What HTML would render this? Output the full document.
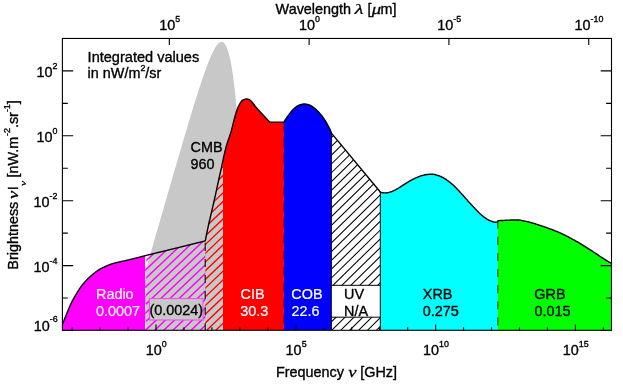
<!DOCTYPE html>
<html><head><meta charset="utf-8"><title>Extragalactic background</title>
<style>html,body{margin:0;padding:0;background:#fff;}body{width:623px;height:389px;overflow:hidden;position:relative;font-family:"Liberation Sans",sans-serif;}</style>
</head><body>
<svg width="623" height="389" viewBox="0 0 623 389" style="position:absolute;left:0;top:0">
<defs>
<clipPath id="cf"><rect x="62.40" y="38.45" width="549.10" height="291.85"/></clipPath>
<clipPath id="cm"><path d="M145.20,330.30 L145.20,255.67 145.60,255.57 146.00,255.47 146.40,255.37 146.80,255.28 147.20,255.18 147.60,255.08 148.00,254.98 148.40,254.88 148.80,254.78 149.20,254.68 149.60,254.58 150.00,254.48 150.40,254.38 150.80,254.29 151.20,254.19 151.60,254.09 152.00,253.99 152.40,253.89 152.80,253.79 153.20,253.70 153.60,253.60 154.00,253.50 154.40,253.40 154.80,253.31 155.20,253.21 155.60,253.11 156.00,253.01 156.40,252.92 156.80,252.82 157.20,252.72 157.60,252.63 158.00,252.53 158.40,252.43 158.80,252.33 159.20,252.24 159.60,252.14 160.00,252.04 160.40,251.95 160.80,251.85 161.20,251.75 161.60,251.66 162.00,251.56 162.40,251.46 162.80,251.37 163.20,251.27 163.60,251.17 164.00,251.08 164.40,250.98 164.80,250.88 165.20,250.79 165.60,250.69 166.00,250.59 166.40,250.50 166.80,250.40 167.20,250.30 167.60,250.20 168.00,250.11 168.40,250.01 168.80,249.91 169.20,249.82 169.60,249.72 170.00,249.62 170.40,249.52 170.80,249.43 171.20,249.33 171.60,249.23 172.00,249.13 172.40,249.04 172.80,248.94 173.20,248.84 173.60,248.74 174.00,248.65 174.40,248.55 174.80,248.45 175.20,248.35 175.60,248.25 176.00,248.15 176.40,248.06 176.80,247.96 177.20,247.86 177.60,247.76 178.00,247.66 178.40,247.56 178.80,247.47 179.20,247.37 179.60,247.27 180.00,247.17 180.40,247.07 180.80,246.97 181.20,246.87 181.60,246.78 182.00,246.68 182.40,246.58 182.80,246.48 183.20,246.38 183.60,246.28 184.00,246.18 184.40,246.08 184.80,245.99 185.20,245.89 185.60,245.79 186.00,245.69 186.40,245.59 186.80,245.49 187.20,245.39 187.60,245.29 188.00,245.19 188.40,245.10 188.80,245.00 189.20,244.90 189.60,244.80 190.00,244.70 190.40,244.60 190.80,244.50 191.20,244.40 191.60,244.30 192.00,244.20 192.40,244.11 192.80,244.01 193.20,243.91 193.60,243.81 194.00,243.71 194.40,243.61 194.80,243.51 195.20,243.41 195.60,243.31 196.00,243.21 196.40,243.11 196.80,243.01 197.20,242.92 197.60,242.82 198.00,242.72 198.40,242.62 198.80,242.52 199.20,242.42 199.60,242.32 200.00,242.22 200.40,242.12 200.80,242.02 201.20,241.92 201.60,241.82 202.00,241.72 202.40,241.62 202.80,241.52 203.20,241.42 203.60,241.32 204.00,241.22 204.40,241.12 204.80,241.02 205.20,240.92 205.30,240.90 L205.30,330.30 Z"/></clipPath>
<clipPath id="cr"><path d="M205.30,330.30 L205.30,240.90 205.70,238.79 206.10,236.72 206.50,234.68 206.90,232.68 207.30,230.71 207.70,228.78 208.10,226.90 208.50,225.06 208.90,223.27 209.30,221.53 209.70,219.82 210.10,218.13 210.50,216.45 210.90,214.76 211.30,213.06 211.70,211.34 212.10,209.62 212.50,207.91 212.90,206.19 213.30,204.47 213.70,202.74 214.10,201.00 214.50,199.24 214.90,197.45 215.30,195.63 215.70,193.78 216.10,191.91 216.50,190.02 216.90,188.14 217.30,186.27 217.70,184.42 218.10,182.59 218.50,180.79 218.90,179.00 219.30,177.21 219.70,175.44 220.10,173.65 220.50,171.86 220.90,170.06 221.30,168.22 221.70,166.35 222.10,164.45 222.50,162.55 222.90,160.65 223.00,160.18 L223.00,330.30 Z"/></clipPath>
<clipPath id="cu"><path d="M331.40,330.30 L331.40,132.80 331.60,133.40 331.60,133.40 380.30,192.00 L380.30,330.30 Z"/></clipPath>
<clipPath id="cc"><path d="M62.40,330.30 L62.40,324.50 62.80,323.46 63.20,322.43 63.60,321.41 64.00,320.39 64.40,319.38 64.80,318.38 65.20,317.38 65.60,316.39 66.00,315.40 66.40,314.43 66.80,313.46 67.20,312.48 67.60,311.51 68.00,310.53 68.40,309.56 68.80,308.60 69.20,307.65 69.60,306.71 70.00,305.79 70.40,304.90 70.80,304.03 71.20,303.20 71.60,302.39 72.00,301.60 72.40,300.82 72.80,300.06 73.20,299.31 73.60,298.58 74.00,297.86 74.40,297.15 74.80,296.45 75.20,295.76 75.60,295.08 76.00,294.42 76.40,293.75 76.80,293.10 77.20,292.45 77.60,291.81 78.00,291.17 78.40,290.54 78.80,289.92 79.20,289.30 79.60,288.70 80.00,288.10 80.40,287.52 80.80,286.95 81.20,286.39 81.60,285.85 82.00,285.31 82.40,284.80 82.80,284.30 83.20,283.81 83.60,283.33 84.00,282.86 84.40,282.39 84.80,281.94 85.20,281.50 85.60,281.06 86.00,280.63 86.40,280.21 86.80,279.80 87.20,279.39 87.60,278.99 88.00,278.60 88.40,278.21 88.80,277.83 89.20,277.46 89.60,277.09 90.00,276.73 90.40,276.37 90.80,276.02 91.20,275.68 91.60,275.34 92.00,275.00 92.40,274.67 92.80,274.34 93.20,274.02 93.60,273.70 94.00,273.38 94.40,273.06 94.80,272.75 95.20,272.43 95.60,272.12 96.00,271.82 96.40,271.52 96.80,271.22 97.20,270.93 97.60,270.65 98.00,270.37 98.40,270.11 98.80,269.85 99.20,269.60 99.60,269.36 100.00,269.13 100.40,268.90 100.80,268.68 101.20,268.46 101.60,268.25 102.00,268.04 102.40,267.84 102.80,267.64 103.20,267.45 103.60,267.26 104.00,267.07 104.40,266.88 104.80,266.70 105.20,266.52 105.60,266.34 106.00,266.16 106.40,265.98 106.80,265.81 107.20,265.64 107.60,265.47 108.00,265.30 108.40,265.14 108.80,264.98 109.20,264.82 109.60,264.67 110.00,264.52 110.40,264.37 110.80,264.23 111.20,264.10 111.60,263.97 112.00,263.84 112.40,263.72 112.80,263.60 113.20,263.48 113.60,263.37 114.00,263.26 114.40,263.15 114.80,263.05 115.20,262.94 115.60,262.84 116.00,262.74 116.40,262.64 116.80,262.54 117.20,262.44 117.60,262.35 118.00,262.25 118.40,262.15 118.80,262.06 119.20,261.96 119.60,261.87 120.00,261.78 120.40,261.69 120.80,261.60 121.20,261.51 121.60,261.42 122.00,261.34 122.40,261.25 122.80,261.17 123.20,261.08 123.60,261.00 124.00,260.91 124.40,260.82 124.80,260.74 125.20,260.65 125.60,260.56 126.00,260.47 126.40,260.38 126.80,260.29 127.20,260.20 127.60,260.11 128.00,260.01 128.40,259.92 128.80,259.82 129.20,259.72 129.60,259.63 130.00,259.53 130.40,259.43 130.80,259.33 131.20,259.23 131.60,259.13 132.00,259.03 132.40,258.93 132.80,258.83 133.20,258.73 133.60,258.63 134.00,258.53 134.40,258.43 134.80,258.33 135.20,258.23 135.60,258.13 136.00,258.03 136.40,257.92 136.80,257.82 137.20,257.72 137.60,257.62 138.00,257.52 138.40,257.42 138.80,257.31 139.20,257.21 139.60,257.11 140.00,257.00 140.40,256.90 140.80,256.80 141.20,256.69 141.60,256.59 142.00,256.49 142.40,256.39 142.80,256.28 143.20,256.18 143.60,256.08 144.00,255.98 144.40,255.88 144.80,255.78 145.20,255.67 145.60,255.57 146.00,255.47 146.40,255.37 146.80,255.28 147.20,255.18 147.60,255.08 148.00,254.98 148.40,254.88 148.80,254.78 149.20,254.68 149.60,254.58 150.00,254.48 150.40,254.38 150.80,254.29 151.20,254.19 151.60,254.09 152.00,253.99 152.40,253.89 152.80,253.79 153.20,253.70 153.60,253.60 154.00,253.50 154.40,253.40 154.80,253.31 155.20,253.21 155.60,253.11 156.00,253.01 156.40,252.92 156.80,252.82 157.20,252.72 157.60,252.63 158.00,252.53 158.40,252.43 158.80,252.33 159.20,252.24 159.60,252.14 160.00,252.04 160.40,251.95 160.80,251.85 161.20,251.75 161.60,251.66 162.00,251.56 162.40,251.46 162.80,251.37 163.20,251.27 163.60,251.17 164.00,251.08 164.40,250.98 164.80,250.88 165.20,250.79 165.60,250.69 166.00,250.59 166.40,250.50 166.80,250.40 167.20,250.30 167.60,250.20 168.00,250.11 168.40,250.01 168.80,249.91 169.20,249.82 169.60,249.72 170.00,249.62 170.40,249.52 170.80,249.43 171.20,249.33 171.60,249.23 172.00,249.13 172.40,249.04 172.80,248.94 173.20,248.84 173.60,248.74 174.00,248.65 174.40,248.55 174.80,248.45 175.20,248.35 175.60,248.25 176.00,248.15 176.40,248.06 176.80,247.96 177.20,247.86 177.60,247.76 178.00,247.66 178.40,247.56 178.80,247.47 179.20,247.37 179.60,247.27 180.00,247.17 180.40,247.07 180.80,246.97 181.20,246.87 181.60,246.78 182.00,246.68 182.40,246.58 182.80,246.48 183.20,246.38 183.60,246.28 184.00,246.18 184.40,246.08 184.80,245.99 185.20,245.89 185.60,245.79 186.00,245.69 186.40,245.59 186.80,245.49 187.20,245.39 187.60,245.29 188.00,245.19 188.40,245.10 188.80,245.00 189.20,244.90 189.60,244.80 190.00,244.70 190.40,244.60 190.80,244.50 191.20,244.40 191.60,244.30 192.00,244.20 192.40,244.11 192.80,244.01 193.20,243.91 193.60,243.81 194.00,243.71 194.40,243.61 194.80,243.51 195.20,243.41 195.60,243.31 196.00,243.21 196.40,243.11 196.80,243.01 197.20,242.92 197.60,242.82 198.00,242.72 198.40,242.62 198.80,242.52 199.20,242.42 199.60,242.32 200.00,242.22 200.40,242.12 200.80,242.02 201.20,241.92 201.60,241.82 202.00,241.72 202.40,241.62 202.80,241.52 203.20,241.42 203.60,241.32 204.00,241.22 204.40,241.12 204.80,241.02 205.20,240.92 205.30,240.90 205.70,238.79 206.10,236.72 206.50,234.68 206.90,232.68 207.30,230.71 207.70,228.78 208.10,226.90 208.50,225.06 208.90,223.27 209.30,221.53 209.70,219.82 210.10,218.13 210.50,216.45 210.90,214.76 211.30,213.06 211.70,211.34 212.10,209.62 212.50,207.91 212.90,206.19 213.30,204.47 213.70,202.74 214.10,201.00 214.50,199.24 214.90,197.45 215.30,195.63 215.70,193.78 216.10,191.91 216.50,190.02 216.90,188.14 217.30,186.27 217.70,184.42 218.10,182.59 218.50,180.79 218.90,179.00 219.30,177.21 219.70,175.44 220.10,173.65 220.50,171.86 220.90,170.06 221.30,168.22 221.70,166.35 222.10,164.45 222.50,162.55 222.90,160.65 223.30,158.78 223.70,156.94 224.10,155.16 224.50,153.44 224.90,151.74 225.30,150.07 225.70,148.44 226.10,146.89 226.50,145.44 226.90,144.11 227.30,142.87 227.70,141.69 228.10,140.57 228.50,139.46 228.90,138.34 229.30,137.19 229.70,136.00 230.10,134.82 230.50,133.61 230.90,132.34 231.30,130.95 231.70,129.45 232.10,127.88 232.50,126.30 232.90,124.68 233.30,123.01 233.70,121.34 234.10,119.75 234.50,118.25 234.90,116.81 235.30,115.42 235.70,114.10 236.10,112.81 236.50,111.55 236.90,110.33 237.30,109.19 237.70,108.14 238.10,107.20 238.50,106.32 238.90,105.49 239.30,104.72 239.70,104.01 240.10,103.34 240.50,102.68 240.90,102.05 241.30,101.48 241.70,100.99 242.10,100.62 242.50,100.30 242.90,100.03 243.30,99.79 243.70,99.61 244.10,99.47 244.50,99.35 244.90,99.25 245.30,99.15 245.70,99.08 246.10,99.03 246.50,99.00 246.90,99.01 247.30,99.06 247.70,99.13 248.10,99.23 248.50,99.34 248.90,99.47 249.30,99.66 249.70,99.92 250.10,100.21 250.50,100.53 250.90,100.88 251.30,101.28 251.70,101.74 252.10,102.23 252.50,102.74 252.90,103.25 253.30,103.75 253.70,104.25 254.10,104.77 254.50,105.29 254.90,105.81 255.30,106.33 255.70,106.83 256.10,107.32 256.50,107.79 256.90,108.26 257.30,108.72 257.70,109.17 258.10,109.62 258.50,110.06 258.90,110.50 259.30,110.94 259.70,111.37 260.10,111.79 260.50,112.22 260.90,112.64 261.30,113.06 261.70,113.48 262.10,113.91 262.50,114.33 262.90,114.76 263.30,115.19 263.70,115.62 264.10,116.05 264.50,116.47 264.90,116.90 265.30,117.33 265.70,117.77 266.10,118.20 266.50,118.63 266.90,119.07 267.30,119.51 267.70,119.95 268.10,120.38 268.50,120.82 268.90,121.27 269.30,121.71 269.70,122.15 284.00,122.15 284.40,121.38 284.80,120.64 285.20,119.93 285.60,119.26 286.00,118.64 286.40,118.05 286.80,117.50 287.20,116.96 287.60,116.43 288.00,115.90 288.40,115.36 288.80,114.82 289.20,114.28 289.60,113.74 290.00,113.21 290.40,112.70 290.80,112.20 291.20,111.72 291.60,111.25 292.00,110.79 292.40,110.34 292.80,109.91 293.20,109.50 293.60,109.10 294.00,108.72 294.40,108.34 294.80,107.98 295.20,107.63 295.60,107.30 296.00,107.00 296.40,106.71 296.80,106.44 297.20,106.17 297.60,105.93 298.00,105.70 298.40,105.49 298.80,105.31 299.20,105.14 299.60,104.97 300.00,104.82 300.40,104.69 300.80,104.57 301.20,104.48 301.60,104.39 302.00,104.30 302.40,104.21 302.80,104.14 303.20,104.07 303.60,104.03 304.00,104.00 304.40,104.00 304.80,104.02 305.20,104.06 305.60,104.11 306.00,104.17 306.40,104.24 306.80,104.31 307.20,104.38 307.60,104.46 308.00,104.56 308.40,104.67 308.80,104.79 309.20,104.93 309.60,105.08 310.00,105.24 310.40,105.43 310.80,105.64 311.20,105.87 311.60,106.12 312.00,106.38 312.40,106.66 312.80,106.93 313.20,107.21 313.60,107.50 314.00,107.81 314.40,108.13 314.80,108.46 315.20,108.80 315.60,109.15 316.00,109.50 316.40,109.86 316.80,110.24 317.20,110.63 317.60,111.02 318.00,111.43 318.40,111.85 318.80,112.28 319.20,112.71 319.60,113.15 320.00,113.60 320.40,114.07 320.80,114.54 321.20,115.03 321.60,115.53 322.00,116.04 322.40,116.56 322.80,117.10 323.20,117.65 323.60,118.22 324.00,118.80 324.40,119.40 324.80,120.01 325.20,120.64 325.60,121.29 326.00,121.95 326.40,122.64 326.80,123.34 327.20,124.06 327.60,124.80 328.00,125.54 328.40,126.30 328.80,127.05 329.20,127.81 329.60,128.58 330.00,129.38 330.40,130.24 330.80,131.16 331.20,132.20 331.60,133.40 331.60,133.40 380.30,192.00 380.70,192.15 381.10,192.30 381.50,192.43 381.90,192.55 382.30,192.64 382.70,192.70 383.10,192.75 383.50,192.79 383.90,192.83 384.30,192.86 384.70,192.89 385.10,192.90 385.50,192.90 385.90,192.88 386.30,192.86 386.70,192.82 387.10,192.78 387.50,192.74 387.90,192.69 388.30,192.62 388.70,192.52 389.10,192.41 389.50,192.29 389.90,192.16 390.30,192.03 390.70,191.90 391.10,191.76 391.50,191.62 391.90,191.47 392.30,191.31 392.70,191.14 393.10,190.97 393.50,190.80 393.90,190.62 394.30,190.43 394.70,190.24 395.10,190.05 395.50,189.85 395.90,189.65 396.30,189.43 396.70,189.21 397.10,188.98 397.50,188.73 397.90,188.49 398.30,188.24 398.70,187.98 399.10,187.72 399.50,187.47 399.90,187.21 400.30,186.95 400.70,186.70 401.10,186.45 401.50,186.19 401.90,185.93 402.30,185.67 402.70,185.41 403.10,185.14 403.50,184.88 403.90,184.62 404.30,184.36 404.70,184.10 405.10,183.84 405.50,183.59 405.90,183.34 406.30,183.09 406.70,182.84 407.10,182.59 407.50,182.35 407.90,182.10 408.30,181.86 408.70,181.62 409.10,181.38 409.50,181.14 409.90,180.91 410.30,180.68 410.70,180.46 411.10,180.25 411.50,180.03 411.90,179.82 412.30,179.61 412.70,179.41 413.10,179.21 413.50,179.01 413.90,178.81 414.30,178.62 414.70,178.43 415.10,178.25 415.50,178.07 415.90,177.89 416.30,177.71 416.70,177.54 417.10,177.36 417.50,177.19 417.90,177.02 418.30,176.85 418.70,176.69 419.10,176.53 419.50,176.37 419.90,176.23 420.30,176.09 420.70,175.95 421.10,175.83 421.50,175.71 421.90,175.60 422.30,175.48 422.70,175.37 423.10,175.27 423.50,175.16 423.90,175.06 424.30,174.97 424.70,174.88 425.10,174.80 425.50,174.73 425.90,174.67 426.30,174.61 426.70,174.56 427.10,174.52 427.50,174.47 427.90,174.43 428.30,174.39 428.70,174.35 429.10,174.31 429.50,174.28 429.90,174.25 430.30,174.23 430.70,174.21 431.10,174.20 431.50,174.20 431.90,174.21 432.30,174.23 432.70,174.26 433.10,174.30 433.50,174.34 433.90,174.39 434.30,174.44 434.70,174.51 435.10,174.60 435.50,174.71 435.90,174.82 436.30,174.95 436.70,175.08 437.10,175.21 437.50,175.34 437.90,175.46 438.30,175.60 438.70,175.73 439.10,175.87 439.50,176.02 439.90,176.18 440.30,176.34 440.70,176.50 441.10,176.67 441.50,176.85 441.90,177.04 442.30,177.24 442.70,177.46 443.10,177.68 443.50,177.92 443.90,178.16 444.30,178.40 444.70,178.65 445.10,178.91 445.50,179.16 445.90,179.43 446.30,179.70 446.70,179.98 447.10,180.26 447.50,180.55 447.90,180.84 448.30,181.14 448.70,181.44 449.10,181.75 449.50,182.05 449.90,182.36 450.30,182.67 450.70,182.99 451.10,183.31 451.50,183.64 451.90,183.97 452.30,184.30 452.70,184.65 453.10,185.00 453.50,185.36 453.90,185.73 454.30,186.10 454.70,186.49 455.10,186.88 455.50,187.27 455.90,187.67 456.30,188.08 456.70,188.49 457.10,188.90 457.50,189.33 457.90,189.76 458.30,190.20 458.70,190.64 459.10,191.09 459.50,191.54 459.90,191.99 460.30,192.44 460.70,192.89 461.10,193.33 461.50,193.77 461.90,194.21 462.30,194.65 462.70,195.09 463.10,195.53 463.50,195.97 463.90,196.41 464.30,196.85 464.70,197.30 465.10,197.75 465.50,198.20 465.90,198.66 466.30,199.11 466.70,199.57 467.10,200.03 467.50,200.48 467.90,200.93 468.30,201.38 468.70,201.82 469.10,202.26 469.50,202.69 469.90,203.13 470.30,203.56 470.70,203.99 471.10,204.42 471.50,204.84 471.90,205.27 472.30,205.69 472.70,206.12 473.10,206.54 473.50,206.97 473.90,207.39 474.30,207.81 474.70,208.23 475.10,208.65 475.50,209.07 475.90,209.48 476.30,209.90 476.70,210.32 477.10,210.74 477.50,211.17 477.90,211.59 478.30,212.01 478.70,212.43 479.10,212.84 479.50,213.23 479.90,213.62 480.30,213.98 480.70,214.34 481.10,214.69 481.50,215.03 481.90,215.36 482.30,215.68 482.70,216.00 483.10,216.32 483.50,216.62 483.90,216.93 484.30,217.22 484.70,217.52 485.10,217.82 485.50,218.11 485.90,218.40 486.30,218.68 486.70,218.95 487.10,219.20 487.50,219.43 487.90,219.65 488.30,219.86 488.70,220.06 489.10,220.26 489.50,220.45 489.90,220.63 490.30,220.80 490.70,220.95 491.10,221.10 491.50,221.24 491.90,221.36 492.30,221.49 492.70,221.62 493.10,221.75 493.50,221.87 493.90,221.98 494.30,222.07 494.70,222.14 495.10,222.18 495.50,222.20 495.90,222.19 496.30,222.17 496.70,222.12 497.10,222.05 497.50,221.76 497.90,220.70 498.30,220.68 498.70,220.66 499.10,220.64 499.50,220.62 499.90,220.59 500.30,220.57 500.70,220.55 501.10,220.53 501.50,220.51 501.90,220.49 502.30,220.47 502.70,220.45 503.10,220.43 503.50,220.41 503.90,220.38 504.30,220.36 504.70,220.34 505.10,220.31 505.50,220.29 505.90,220.26 506.30,220.24 506.70,220.22 507.10,220.19 507.50,220.17 507.90,220.15 508.30,220.13 508.70,220.12 509.10,220.11 509.50,220.09 509.90,220.08 510.30,220.07 510.70,220.06 511.10,220.05 511.50,220.05 511.90,220.04 512.30,220.03 512.70,220.02 513.10,220.02 513.50,220.01 513.90,220.01 514.30,220.00 514.70,220.00 515.10,220.00 515.50,220.00 515.90,220.00 516.30,220.00 516.70,220.00 517.10,220.00 517.50,220.00 517.90,220.00 518.30,220.00 518.70,220.00 519.10,220.02 519.50,220.07 519.90,220.13 520.30,220.21 520.70,220.30 521.10,220.39 521.50,220.48 521.90,220.56 522.30,220.64 522.70,220.71 523.10,220.78 523.50,220.86 523.90,220.93 524.30,221.01 524.70,221.09 525.10,221.16 525.50,221.25 525.90,221.33 526.30,221.41 526.70,221.50 527.10,221.59 527.50,221.68 527.90,221.78 528.30,221.87 528.70,221.97 529.10,222.08 529.50,222.18 529.90,222.28 530.30,222.39 530.70,222.50 531.10,222.61 531.50,222.72 531.90,222.83 532.30,222.94 532.70,223.06 533.10,223.17 533.50,223.29 533.90,223.42 534.30,223.54 534.70,223.67 535.10,223.79 535.50,223.92 535.90,224.05 536.30,224.18 536.70,224.31 537.10,224.44 537.50,224.57 537.90,224.70 538.30,224.83 538.70,224.96 539.10,225.09 539.50,225.22 539.90,225.35 540.30,225.47 540.70,225.60 541.10,225.73 541.50,225.86 541.90,226.00 542.30,226.13 542.70,226.26 543.10,226.39 543.50,226.53 543.90,226.67 544.30,226.80 544.70,226.94 545.10,227.08 545.50,227.23 545.90,227.37 546.30,227.51 546.70,227.66 547.10,227.80 547.50,227.95 547.90,228.10 548.30,228.24 548.70,228.39 549.10,228.54 549.50,228.69 549.90,228.84 550.30,228.99 550.70,229.13 551.10,229.28 551.50,229.43 551.90,229.58 552.30,229.73 552.70,229.88 553.10,230.03 553.50,230.18 553.90,230.33 554.30,230.49 554.70,230.64 555.10,230.80 555.50,230.96 555.90,231.12 556.30,231.28 556.70,231.44 557.10,231.61 557.50,231.77 557.90,231.94 558.30,232.11 558.70,232.28 559.10,232.45 559.50,232.62 559.90,232.80 560.30,232.98 560.70,233.16 561.10,233.34 561.50,233.52 561.90,233.70 562.30,233.89 562.70,234.08 563.10,234.27 563.50,234.46 563.90,234.65 564.30,234.85 564.70,235.04 565.10,235.24 565.50,235.44 565.90,235.64 566.30,235.85 566.70,236.05 567.10,236.26 567.50,236.47 567.90,236.68 568.30,236.90 568.70,237.11 569.10,237.33 569.50,237.55 569.90,237.77 570.30,237.99 570.70,238.22 571.10,238.44 571.50,238.66 571.90,238.88 572.30,239.10 572.70,239.32 573.10,239.54 573.50,239.75 573.90,239.97 574.30,240.19 574.70,240.41 575.10,240.62 575.50,240.84 575.90,241.06 576.30,241.28 576.70,241.51 577.10,241.73 577.50,241.96 577.90,242.19 578.30,242.42 578.70,242.65 579.10,242.88 579.50,243.12 579.90,243.36 580.30,243.60 580.70,243.84 581.10,244.08 581.50,244.32 581.90,244.57 582.30,244.81 582.70,245.06 583.10,245.30 583.50,245.55 583.90,245.80 584.30,246.05 584.70,246.30 585.10,246.55 585.50,246.80 585.90,247.06 586.30,247.31 586.70,247.57 587.10,247.82 587.50,248.08 587.90,248.34 588.30,248.60 588.70,248.85 589.10,249.11 589.50,249.37 589.90,249.63 590.30,249.89 590.70,250.15 591.10,250.41 591.50,250.67 591.90,250.93 592.30,251.19 592.70,251.46 593.10,251.72 593.50,251.98 593.90,252.24 594.30,252.51 594.70,252.77 595.10,253.04 595.50,253.30 595.90,253.57 596.30,253.83 596.70,254.10 597.10,254.37 597.50,254.64 597.90,254.90 598.30,255.17 598.70,255.44 599.10,255.71 599.50,255.98 599.90,256.24 600.30,256.51 600.70,256.77 601.10,257.03 601.50,257.30 601.90,257.56 602.30,257.82 602.70,258.08 603.10,258.34 603.50,258.60 603.90,258.86 604.30,259.11 604.70,259.37 605.10,259.62 605.50,259.87 605.90,260.12 606.30,260.37 606.70,260.62 607.10,260.86 607.50,261.10 607.90,261.34 608.30,261.58 608.70,261.81 609.10,262.04 609.50,262.27 609.90,262.50 610.30,262.73 610.70,262.96 611.10,263.18 611.50,263.40 611.50,263.40 L611.50,330.30 Z"/></clipPath>
</defs>
<rect width="623" height="389" fill="#fff"/>
<g clip-path="url(#cf)">
<path d="M127.94,330.30 L127.94,332.06 128.15,331.31 128.37,330.57 128.58,329.82 128.80,329.07 129.01,328.32 129.23,327.58 129.44,326.83 129.66,326.08 129.87,325.34 130.09,324.59 130.30,323.84 130.52,323.09 130.73,322.35 130.95,321.60 131.16,320.85 131.38,320.10 131.59,319.36 131.80,318.61 132.02,317.86 132.23,317.11 132.45,316.37 132.66,315.62 132.88,314.87 133.09,314.13 133.31,313.38 133.52,312.63 133.74,311.88 133.95,311.14 134.17,310.39 134.38,309.64 134.60,308.90 134.81,308.15 135.03,307.40 135.24,306.65 135.46,305.91 135.67,305.16 135.88,304.41 136.10,303.66 136.31,302.92 136.53,302.17 136.74,301.42 136.96,300.68 137.17,299.93 137.39,299.18 137.60,298.43 137.82,297.69 138.03,296.94 138.25,296.19 138.46,295.45 138.68,294.70 138.89,293.95 139.11,293.21 139.32,292.46 139.53,291.71 139.75,290.96 139.96,290.22 140.18,289.47 140.39,288.72 140.61,287.98 140.82,287.23 141.04,286.48 141.25,285.74 141.47,284.99 141.68,284.24 141.90,283.49 142.11,282.75 142.33,282.00 142.54,281.25 142.76,280.51 142.97,279.76 143.18,279.01 143.40,278.27 143.61,277.52 143.83,276.77 144.04,276.03 144.26,275.28 144.47,274.53 144.69,273.79 144.90,273.04 145.12,272.29 145.33,271.55 145.55,270.80 145.76,270.05 145.98,269.31 146.19,268.56 146.41,267.81 146.62,267.07 146.84,266.32 147.05,265.57 147.26,264.83 147.48,264.08 147.69,263.33 147.91,262.59 148.12,261.84 148.34,261.09 148.55,260.35 148.77,259.60 148.98,258.86 149.20,258.11 149.41,257.36 149.63,256.62 149.84,255.87 150.06,255.12 150.27,254.38 150.49,253.63 150.70,252.89 150.91,252.14 151.13,251.39 151.34,250.65 151.56,249.90 151.77,249.15 151.99,248.41 152.20,247.66 152.42,246.92 152.63,246.17 152.85,245.42 153.06,244.68 153.28,243.93 153.49,243.19 153.71,242.44 153.92,241.70 154.14,240.95 154.35,240.20 154.57,239.46 154.78,238.71 154.99,237.97 155.21,237.22 155.42,236.48 155.64,235.73 155.85,234.99 156.07,234.24 156.28,233.49 156.50,232.75 156.71,232.00 156.93,231.26 157.14,230.51 157.36,229.77 157.57,229.02 157.79,228.28 158.00,227.53 158.22,226.79 158.43,226.04 158.64,225.30 158.86,224.55 159.07,223.81 159.29,223.06 159.50,222.32 159.72,221.58 159.93,220.83 160.15,220.09 160.36,219.34 160.58,218.60 160.79,217.85 161.01,217.11 161.22,216.36 161.44,215.62 161.65,214.88 161.87,214.13 162.08,213.39 162.29,212.64 162.51,211.90 162.72,211.16 162.94,210.41 163.15,209.67 163.37,208.93 163.58,208.18 163.80,207.44 164.01,206.70 164.23,205.95 164.44,205.21 164.66,204.47 164.87,203.72 165.09,202.98 165.30,202.24 165.52,201.49 165.73,200.75 165.95,200.01 166.16,199.27 166.37,198.52 166.59,197.78 166.80,197.04 167.02,196.30 167.23,195.56 167.45,194.81 167.66,194.07 167.88,193.33 168.09,192.59 168.31,191.85 168.52,191.11 168.74,190.36 168.95,189.62 169.17,188.88 169.38,188.14 169.60,187.40 169.81,186.66 170.02,185.92 170.24,185.18 170.45,184.44 170.67,183.70 170.88,182.96 171.10,182.22 171.31,181.48 171.53,180.74 171.74,180.00 171.96,179.26 172.17,178.52 172.39,177.78 172.60,177.04 172.82,176.30 173.03,175.57 173.25,174.83 173.46,174.09 173.67,173.35 173.89,172.61 174.10,171.88 174.32,171.14 174.53,170.40 174.75,169.66 174.96,168.93 175.18,168.19 175.39,167.45 175.61,166.72 175.82,165.98 176.04,165.24 176.25,164.51 176.47,163.77 176.68,163.04 176.90,162.30 177.11,161.57 177.33,160.83 177.54,160.10 177.75,159.36 177.97,158.63 178.18,157.90 178.40,157.16 178.61,156.43 178.83,155.70 179.04,154.96 179.26,154.23 179.47,153.50 179.69,152.77 179.90,152.04 180.12,151.31 180.33,150.57 180.55,149.84 180.76,149.11 180.98,148.38 181.19,147.65 181.40,146.92 181.62,146.19 181.83,145.47 182.05,144.74 182.26,144.01 182.48,143.28 182.69,142.55 182.91,141.83 183.12,141.10 183.34,140.37 183.55,139.65 183.77,138.92 183.98,138.20 184.20,137.47 184.41,136.75 184.63,136.03 184.84,135.30 185.05,134.58 185.27,133.86 185.48,133.14 185.70,132.41 185.91,131.69 186.13,130.97 186.34,130.25 186.56,129.53 186.77,128.81 186.99,128.10 187.20,127.38 187.42,126.66 187.63,125.94 187.85,125.23 188.06,124.51 188.28,123.80 188.49,123.08 188.71,122.37 188.92,121.66 189.13,120.94 189.35,120.23 189.56,119.52 189.78,118.81 189.99,118.10 190.21,117.39 190.42,116.68 190.64,115.98 190.85,115.27 191.07,114.56 191.28,113.86 191.50,113.15 191.71,112.45 191.93,111.75 192.14,111.04 192.36,110.34 192.57,109.64 192.78,108.94 193.00,108.24 193.21,107.55 193.43,106.85 193.64,106.15 193.86,105.46 194.07,104.77 194.29,104.07 194.50,103.38 194.72,102.69 194.93,102.00 195.15,101.31 195.36,100.62 195.58,99.94 195.79,99.25 196.01,98.57 196.22,97.89 196.43,97.21 196.65,96.53 196.86,95.85 197.08,95.17 197.29,94.49 197.51,93.82 197.72,93.15 197.94,92.47 198.15,91.80 198.37,91.13 198.58,90.47 198.80,89.80 199.01,89.14 199.23,88.47 199.44,87.81 199.66,87.15 199.87,86.50 200.09,85.84 200.30,85.19 200.51,84.54 200.73,83.88 200.94,83.24 201.16,82.59 201.37,81.95 201.59,81.30 201.80,80.66 202.02,80.03 202.23,79.39 202.45,78.76 202.66,78.12 202.88,77.49 203.09,76.87 203.31,76.24 203.52,75.62 203.74,75.00 203.95,74.39 204.16,73.77 204.38,73.16 204.59,72.55 204.81,71.95 205.02,71.34 205.24,70.74 205.45,70.15 205.67,69.55 205.88,68.96 206.10,68.37 206.31,67.79 206.53,67.21 206.74,66.63 206.96,66.06 207.17,65.49 207.39,64.92 207.60,64.36 207.82,63.80 208.03,63.24 208.24,62.69 208.46,62.14 208.67,61.60 208.89,61.06 209.10,60.53 209.32,60.00 209.53,59.47 209.75,58.95 209.96,58.43 210.18,57.92 210.39,57.42 210.61,56.92 210.82,56.42 211.04,55.93 211.25,55.44 211.47,54.97 211.68,54.49 211.89,54.02 212.11,53.56 212.32,53.11 212.54,52.66 212.75,52.21 212.97,51.78 213.18,51.35 213.40,50.93 213.61,50.51 213.83,50.10 214.04,49.70 214.26,49.31 214.47,48.92 214.69,48.54 214.90,48.17 215.12,47.81 215.33,47.46 215.54,47.11 215.76,46.78 215.97,46.45 216.19,46.13 216.40,45.82 216.62,45.52 216.83,45.24 217.05,44.96 217.26,44.69 217.48,44.43 217.69,44.18 217.91,43.95 218.12,43.72 218.34,43.51 218.55,43.31 218.77,43.12 218.98,42.94 219.20,42.78 219.41,42.63 219.62,42.49 219.84,42.36 220.05,42.25 220.27,42.15 220.48,42.07 220.70,42.00 220.91,41.95 221.13,41.91 221.34,41.89 221.56,41.88 221.77,41.89 221.99,41.92 222.20,41.96 222.42,42.02 222.63,42.10 222.85,42.20 223.06,42.31 223.27,42.44 223.49,42.60 223.70,42.77 223.92,42.96 224.13,43.17 224.35,43.41 224.56,43.66 224.78,43.94 224.99,44.23 225.21,44.55 225.42,44.90 225.64,45.26 225.85,45.65 226.07,46.07 226.28,46.51 226.50,46.97 226.71,47.46 226.92,47.98 227.14,48.52 227.35,49.09 227.57,49.69 227.78,50.31 228.00,50.97 228.21,51.65 228.43,52.36 228.64,53.10 228.86,53.88 229.07,54.68 229.29,55.52 229.50,56.39 229.72,57.30 229.93,58.23 230.15,59.20 230.36,60.21 230.58,61.25 230.79,62.33 231.00,63.45 231.22,64.60 231.43,65.79 231.65,67.02 231.86,68.29 232.08,69.60 232.29,70.95 232.51,72.35 232.72,73.78 232.94,75.26 233.15,76.79 233.37,78.36 233.58,79.97 233.80,81.63 234.01,83.34 234.23,85.10 234.44,86.90 234.65,88.76 234.87,90.66 235.08,92.62 235.30,94.63 235.51,96.70 235.73,98.82 235.94,100.99 236.16,103.22 236.37,105.51 236.59,107.86 236.80,110.27 237.02,112.74 237.23,115.27 237.45,117.86 237.66,120.51 237.88,123.24 238.09,126.03 238.30,128.88 238.52,131.81 238.73,134.80 238.95,137.87 239.16,141.00 239.38,144.22 239.59,147.50 239.81,150.87 240.02,154.31 240.24,157.83 240.45,161.43 240.67,165.11 240.88,168.88 241.10,172.73 241.31,176.67 241.53,180.70 241.74,184.81 241.96,189.02 242.17,193.32 242.38,197.71 242.60,202.20 242.81,206.79 243.03,211.48 243.24,216.27 243.46,221.16 243.67,226.16 243.89,231.26 244.10,236.48 244.32,241.80 244.53,247.24 244.75,252.79 244.96,258.46 245.18,264.25 245.39,270.15 245.61,276.19 245.82,282.34 246.03,288.63 246.25,295.04 246.46,301.59 246.68,308.27 246.89,315.09 247.11,322.05 247.32,329.15 L247.32,330.30 Z" fill="#c8c8c8"/>
<g clip-path="url(#cm)"><path d="M143.20,220.47 L207.30,159.70 M143.20,229.09 L207.30,168.32 M143.20,237.71 L207.30,176.94 M143.20,246.33 L207.30,185.56 M143.20,254.95 L207.30,194.18 M143.20,263.57 L207.30,202.80 M143.20,272.19 L207.30,211.42 M143.20,280.81 L207.30,220.04 M143.20,289.43 L207.30,228.66 M143.20,298.05 L207.30,237.28 M143.20,306.67 L207.30,245.90 M143.20,315.29 L207.30,254.52 M143.20,323.91 L207.30,263.14 M143.20,332.53 L207.30,271.76 M143.20,341.15 L207.30,280.38 M143.20,349.77 L207.30,289.00 M143.20,358.39 L207.30,297.62 M143.20,367.01 L207.30,306.24 M143.20,375.63 L207.30,314.86 M143.20,384.25 L207.30,323.48 M143.20,392.87 L207.30,332.10" stroke="#ff00ff" stroke-width="1.45" fill="none"/></g>
<g clip-path="url(#cr)"><path d="M203.30,142.16 L225.00,121.33 M203.30,150.86 L225.00,130.03 M203.30,159.56 L225.00,138.73 M203.30,168.26 L225.00,147.43 M203.30,176.96 L225.00,156.13 M203.30,185.66 L225.00,164.83 M203.30,194.36 L225.00,173.53 M203.30,203.06 L225.00,182.23 M203.30,211.76 L225.00,190.93 M203.30,220.46 L225.00,199.63 M203.30,229.16 L225.00,208.33 M203.30,237.86 L225.00,217.03 M203.30,246.56 L225.00,225.73 M203.30,255.26 L225.00,234.43 M203.30,263.96 L225.00,243.13 M203.30,272.66 L225.00,251.83 M203.30,281.36 L225.00,260.53 M203.30,290.06 L225.00,269.23 M203.30,298.76 L225.00,277.93 M203.30,307.46 L225.00,286.63 M203.30,316.16 L225.00,295.33 M203.30,324.86 L225.00,304.03 M203.30,333.56 L225.00,312.73 M203.30,342.26 L225.00,321.43 M203.30,350.96 L225.00,330.13" stroke="#ff0000" stroke-width="1.35" fill="none"/></g>
<g clip-path="url(#cu)"><path d="M329.40,122.08 L382.30,70.24 M329.40,130.85 L382.30,79.01 M329.40,139.62 L382.30,87.78 M329.40,148.39 L382.30,96.55 M329.40,157.16 L382.30,105.32 M329.40,165.93 L382.30,114.09 M329.40,174.70 L382.30,122.86 M329.40,183.47 L382.30,131.63 M329.40,192.24 L382.30,140.40 M329.40,201.01 L382.30,149.17 M329.40,209.78 L382.30,157.94 M329.40,218.55 L382.30,166.71 M329.40,227.32 L382.30,175.48 M329.40,236.09 L382.30,184.25 M329.40,244.86 L382.30,193.02 M329.40,253.63 L382.30,201.79 M329.40,262.40 L382.30,210.56 M329.40,271.17 L382.30,219.33 M329.40,279.94 L382.30,228.10 M329.40,288.71 L382.30,236.87 M329.40,297.48 L382.30,245.64 M329.40,306.25 L382.30,254.41 M329.40,315.02 L382.30,263.18 M329.40,323.79 L382.30,271.95 M329.40,332.56 L382.30,280.72 M329.40,341.33 L382.30,289.49 M329.40,350.10 L382.30,298.26 M329.40,358.87 L382.30,307.03 M329.40,367.64 L382.30,315.80 M329.40,376.41 L382.30,324.57 M329.40,385.18 L382.30,333.34" stroke="#000" stroke-width="1.05" fill="none"/></g>
<path d="M62.40,330.30 L62.40,324.50 62.80,323.46 63.20,322.43 63.60,321.41 64.00,320.39 64.40,319.38 64.80,318.38 65.20,317.38 65.60,316.39 66.00,315.40 66.40,314.43 66.80,313.46 67.20,312.48 67.60,311.51 68.00,310.53 68.40,309.56 68.80,308.60 69.20,307.65 69.60,306.71 70.00,305.79 70.40,304.90 70.80,304.03 71.20,303.20 71.60,302.39 72.00,301.60 72.40,300.82 72.80,300.06 73.20,299.31 73.60,298.58 74.00,297.86 74.40,297.15 74.80,296.45 75.20,295.76 75.60,295.08 76.00,294.42 76.40,293.75 76.80,293.10 77.20,292.45 77.60,291.81 78.00,291.17 78.40,290.54 78.80,289.92 79.20,289.30 79.60,288.70 80.00,288.10 80.40,287.52 80.80,286.95 81.20,286.39 81.60,285.85 82.00,285.31 82.40,284.80 82.80,284.30 83.20,283.81 83.60,283.33 84.00,282.86 84.40,282.39 84.80,281.94 85.20,281.50 85.60,281.06 86.00,280.63 86.40,280.21 86.80,279.80 87.20,279.39 87.60,278.99 88.00,278.60 88.40,278.21 88.80,277.83 89.20,277.46 89.60,277.09 90.00,276.73 90.40,276.37 90.80,276.02 91.20,275.68 91.60,275.34 92.00,275.00 92.40,274.67 92.80,274.34 93.20,274.02 93.60,273.70 94.00,273.38 94.40,273.06 94.80,272.75 95.20,272.43 95.60,272.12 96.00,271.82 96.40,271.52 96.80,271.22 97.20,270.93 97.60,270.65 98.00,270.37 98.40,270.11 98.80,269.85 99.20,269.60 99.60,269.36 100.00,269.13 100.40,268.90 100.80,268.68 101.20,268.46 101.60,268.25 102.00,268.04 102.40,267.84 102.80,267.64 103.20,267.45 103.60,267.26 104.00,267.07 104.40,266.88 104.80,266.70 105.20,266.52 105.60,266.34 106.00,266.16 106.40,265.98 106.80,265.81 107.20,265.64 107.60,265.47 108.00,265.30 108.40,265.14 108.80,264.98 109.20,264.82 109.60,264.67 110.00,264.52 110.40,264.37 110.80,264.23 111.20,264.10 111.60,263.97 112.00,263.84 112.40,263.72 112.80,263.60 113.20,263.48 113.60,263.37 114.00,263.26 114.40,263.15 114.80,263.05 115.20,262.94 115.60,262.84 116.00,262.74 116.40,262.64 116.80,262.54 117.20,262.44 117.60,262.35 118.00,262.25 118.40,262.15 118.80,262.06 119.20,261.96 119.60,261.87 120.00,261.78 120.40,261.69 120.80,261.60 121.20,261.51 121.60,261.42 122.00,261.34 122.40,261.25 122.80,261.17 123.20,261.08 123.60,261.00 124.00,260.91 124.40,260.82 124.80,260.74 125.20,260.65 125.60,260.56 126.00,260.47 126.40,260.38 126.80,260.29 127.20,260.20 127.60,260.11 128.00,260.01 128.40,259.92 128.80,259.82 129.20,259.72 129.60,259.63 130.00,259.53 130.40,259.43 130.80,259.33 131.20,259.23 131.60,259.13 132.00,259.03 132.40,258.93 132.80,258.83 133.20,258.73 133.60,258.63 134.00,258.53 134.40,258.43 134.80,258.33 135.20,258.23 135.60,258.13 136.00,258.03 136.40,257.92 136.80,257.82 137.20,257.72 137.60,257.62 138.00,257.52 138.40,257.42 138.80,257.31 139.20,257.21 139.60,257.11 140.00,257.00 140.40,256.90 140.80,256.80 141.20,256.69 141.60,256.59 142.00,256.49 142.40,256.39 142.80,256.28 143.20,256.18 143.60,256.08 144.00,255.98 144.40,255.88 144.80,255.78 145.20,255.67 145.20,255.67 L145.20,330.30 Z" fill="#ff00ff"/>
<path d="M223.00,330.30 L223.00,160.18 223.30,158.78 223.70,156.94 224.10,155.16 224.50,153.44 224.90,151.74 225.30,150.07 225.70,148.44 226.10,146.89 226.50,145.44 226.90,144.11 227.30,142.87 227.70,141.69 228.10,140.57 228.50,139.46 228.90,138.34 229.30,137.19 229.70,136.00 230.10,134.82 230.50,133.61 230.90,132.34 231.30,130.95 231.70,129.45 232.10,127.88 232.50,126.30 232.90,124.68 233.30,123.01 233.70,121.34 234.10,119.75 234.50,118.25 234.90,116.81 235.30,115.42 235.70,114.10 236.10,112.81 236.50,111.55 236.90,110.33 237.30,109.19 237.70,108.14 238.10,107.20 238.50,106.32 238.90,105.49 239.30,104.72 239.70,104.01 240.10,103.34 240.50,102.68 240.90,102.05 241.30,101.48 241.70,100.99 242.10,100.62 242.50,100.30 242.90,100.03 243.30,99.79 243.70,99.61 244.10,99.47 244.50,99.35 244.90,99.25 245.30,99.15 245.70,99.08 246.10,99.03 246.50,99.00 246.90,99.01 247.30,99.06 247.70,99.13 248.10,99.23 248.50,99.34 248.90,99.47 249.30,99.66 249.70,99.92 250.10,100.21 250.50,100.53 250.90,100.88 251.30,101.28 251.70,101.74 252.10,102.23 252.50,102.74 252.90,103.25 253.30,103.75 253.70,104.25 254.10,104.77 254.50,105.29 254.90,105.81 255.30,106.33 255.70,106.83 256.10,107.32 256.50,107.79 256.90,108.26 257.30,108.72 257.70,109.17 258.10,109.62 258.50,110.06 258.90,110.50 259.30,110.94 259.70,111.37 260.10,111.79 260.50,112.22 260.90,112.64 261.30,113.06 261.70,113.48 262.10,113.91 262.50,114.33 262.90,114.76 263.30,115.19 263.70,115.62 264.10,116.05 264.50,116.47 264.90,116.90 265.30,117.33 265.70,117.77 266.10,118.20 266.50,118.63 266.90,119.07 267.30,119.51 267.70,119.95 268.10,120.38 268.50,120.82 268.90,121.27 269.30,121.71 269.70,122.15 284.00,122.15 L284.00,330.30 Z" fill="#ff0000"/>
<path d="M284.00,330.30 L284.00,122.15 284.40,121.38 284.80,120.64 285.20,119.93 285.60,119.26 286.00,118.64 286.40,118.05 286.80,117.50 287.20,116.96 287.60,116.43 288.00,115.90 288.40,115.36 288.80,114.82 289.20,114.28 289.60,113.74 290.00,113.21 290.40,112.70 290.80,112.20 291.20,111.72 291.60,111.25 292.00,110.79 292.40,110.34 292.80,109.91 293.20,109.50 293.60,109.10 294.00,108.72 294.40,108.34 294.80,107.98 295.20,107.63 295.60,107.30 296.00,107.00 296.40,106.71 296.80,106.44 297.20,106.17 297.60,105.93 298.00,105.70 298.40,105.49 298.80,105.31 299.20,105.14 299.60,104.97 300.00,104.82 300.40,104.69 300.80,104.57 301.20,104.48 301.60,104.39 302.00,104.30 302.40,104.21 302.80,104.14 303.20,104.07 303.60,104.03 304.00,104.00 304.40,104.00 304.80,104.02 305.20,104.06 305.60,104.11 306.00,104.17 306.40,104.24 306.80,104.31 307.20,104.38 307.60,104.46 308.00,104.56 308.40,104.67 308.80,104.79 309.20,104.93 309.60,105.08 310.00,105.24 310.40,105.43 310.80,105.64 311.20,105.87 311.60,106.12 312.00,106.38 312.40,106.66 312.80,106.93 313.20,107.21 313.60,107.50 314.00,107.81 314.40,108.13 314.80,108.46 315.20,108.80 315.60,109.15 316.00,109.50 316.40,109.86 316.80,110.24 317.20,110.63 317.60,111.02 318.00,111.43 318.40,111.85 318.80,112.28 319.20,112.71 319.60,113.15 320.00,113.60 320.40,114.07 320.80,114.54 321.20,115.03 321.60,115.53 322.00,116.04 322.40,116.56 322.80,117.10 323.20,117.65 323.60,118.22 324.00,118.80 324.40,119.40 324.80,120.01 325.20,120.64 325.60,121.29 326.00,121.95 326.40,122.64 326.80,123.34 327.20,124.06 327.60,124.80 328.00,125.54 328.40,126.30 328.80,127.05 329.20,127.81 329.60,128.58 330.00,129.38 330.40,130.24 330.80,131.16 331.20,132.20 331.40,132.80 L331.40,330.30 Z" fill="#0000ff"/>
<path d="M380.30,330.30 L380.30,192.00 380.70,192.15 381.10,192.30 381.50,192.43 381.90,192.55 382.30,192.64 382.70,192.70 383.10,192.75 383.50,192.79 383.90,192.83 384.30,192.86 384.70,192.89 385.10,192.90 385.50,192.90 385.90,192.88 386.30,192.86 386.70,192.82 387.10,192.78 387.50,192.74 387.90,192.69 388.30,192.62 388.70,192.52 389.10,192.41 389.50,192.29 389.90,192.16 390.30,192.03 390.70,191.90 391.10,191.76 391.50,191.62 391.90,191.47 392.30,191.31 392.70,191.14 393.10,190.97 393.50,190.80 393.90,190.62 394.30,190.43 394.70,190.24 395.10,190.05 395.50,189.85 395.90,189.65 396.30,189.43 396.70,189.21 397.10,188.98 397.50,188.73 397.90,188.49 398.30,188.24 398.70,187.98 399.10,187.72 399.50,187.47 399.90,187.21 400.30,186.95 400.70,186.70 401.10,186.45 401.50,186.19 401.90,185.93 402.30,185.67 402.70,185.41 403.10,185.14 403.50,184.88 403.90,184.62 404.30,184.36 404.70,184.10 405.10,183.84 405.50,183.59 405.90,183.34 406.30,183.09 406.70,182.84 407.10,182.59 407.50,182.35 407.90,182.10 408.30,181.86 408.70,181.62 409.10,181.38 409.50,181.14 409.90,180.91 410.30,180.68 410.70,180.46 411.10,180.25 411.50,180.03 411.90,179.82 412.30,179.61 412.70,179.41 413.10,179.21 413.50,179.01 413.90,178.81 414.30,178.62 414.70,178.43 415.10,178.25 415.50,178.07 415.90,177.89 416.30,177.71 416.70,177.54 417.10,177.36 417.50,177.19 417.90,177.02 418.30,176.85 418.70,176.69 419.10,176.53 419.50,176.37 419.90,176.23 420.30,176.09 420.70,175.95 421.10,175.83 421.50,175.71 421.90,175.60 422.30,175.48 422.70,175.37 423.10,175.27 423.50,175.16 423.90,175.06 424.30,174.97 424.70,174.88 425.10,174.80 425.50,174.73 425.90,174.67 426.30,174.61 426.70,174.56 427.10,174.52 427.50,174.47 427.90,174.43 428.30,174.39 428.70,174.35 429.10,174.31 429.50,174.28 429.90,174.25 430.30,174.23 430.70,174.21 431.10,174.20 431.50,174.20 431.90,174.21 432.30,174.23 432.70,174.26 433.10,174.30 433.50,174.34 433.90,174.39 434.30,174.44 434.70,174.51 435.10,174.60 435.50,174.71 435.90,174.82 436.30,174.95 436.70,175.08 437.10,175.21 437.50,175.34 437.90,175.46 438.30,175.60 438.70,175.73 439.10,175.87 439.50,176.02 439.90,176.18 440.30,176.34 440.70,176.50 441.10,176.67 441.50,176.85 441.90,177.04 442.30,177.24 442.70,177.46 443.10,177.68 443.50,177.92 443.90,178.16 444.30,178.40 444.70,178.65 445.10,178.91 445.50,179.16 445.90,179.43 446.30,179.70 446.70,179.98 447.10,180.26 447.50,180.55 447.90,180.84 448.30,181.14 448.70,181.44 449.10,181.75 449.50,182.05 449.90,182.36 450.30,182.67 450.70,182.99 451.10,183.31 451.50,183.64 451.90,183.97 452.30,184.30 452.70,184.65 453.10,185.00 453.50,185.36 453.90,185.73 454.30,186.10 454.70,186.49 455.10,186.88 455.50,187.27 455.90,187.67 456.30,188.08 456.70,188.49 457.10,188.90 457.50,189.33 457.90,189.76 458.30,190.20 458.70,190.64 459.10,191.09 459.50,191.54 459.90,191.99 460.30,192.44 460.70,192.89 461.10,193.33 461.50,193.77 461.90,194.21 462.30,194.65 462.70,195.09 463.10,195.53 463.50,195.97 463.90,196.41 464.30,196.85 464.70,197.30 465.10,197.75 465.50,198.20 465.90,198.66 466.30,199.11 466.70,199.57 467.10,200.03 467.50,200.48 467.90,200.93 468.30,201.38 468.70,201.82 469.10,202.26 469.50,202.69 469.90,203.13 470.30,203.56 470.70,203.99 471.10,204.42 471.50,204.84 471.90,205.27 472.30,205.69 472.70,206.12 473.10,206.54 473.50,206.97 473.90,207.39 474.30,207.81 474.70,208.23 475.10,208.65 475.50,209.07 475.90,209.48 476.30,209.90 476.70,210.32 477.10,210.74 477.50,211.17 477.90,211.59 478.30,212.01 478.70,212.43 479.10,212.84 479.50,213.23 479.90,213.62 480.30,213.98 480.70,214.34 481.10,214.69 481.50,215.03 481.90,215.36 482.30,215.68 482.70,216.00 483.10,216.32 483.50,216.62 483.90,216.93 484.30,217.22 484.70,217.52 485.10,217.82 485.50,218.11 485.90,218.40 486.30,218.68 486.70,218.95 487.10,219.20 487.50,219.43 487.90,219.65 488.30,219.86 488.70,220.06 489.10,220.26 489.50,220.45 489.90,220.63 490.30,220.80 490.70,220.95 491.10,221.10 491.50,221.24 491.90,221.36 492.30,221.49 492.70,221.62 493.10,221.75 493.50,221.87 493.90,221.98 494.30,222.07 494.70,222.14 495.10,222.18 495.50,222.20 495.90,222.19 496.30,222.17 496.70,222.12 497.10,222.05 497.50,221.76 497.80,220.96 L497.80,330.30 Z" fill="#00ffff"/>
<path d="M497.80,330.30 L497.80,220.96 497.90,220.70 498.30,220.68 498.70,220.66 499.10,220.64 499.50,220.62 499.90,220.59 500.30,220.57 500.70,220.55 501.10,220.53 501.50,220.51 501.90,220.49 502.30,220.47 502.70,220.45 503.10,220.43 503.50,220.41 503.90,220.38 504.30,220.36 504.70,220.34 505.10,220.31 505.50,220.29 505.90,220.26 506.30,220.24 506.70,220.22 507.10,220.19 507.50,220.17 507.90,220.15 508.30,220.13 508.70,220.12 509.10,220.11 509.50,220.09 509.90,220.08 510.30,220.07 510.70,220.06 511.10,220.05 511.50,220.05 511.90,220.04 512.30,220.03 512.70,220.02 513.10,220.02 513.50,220.01 513.90,220.01 514.30,220.00 514.70,220.00 515.10,220.00 515.50,220.00 515.90,220.00 516.30,220.00 516.70,220.00 517.10,220.00 517.50,220.00 517.90,220.00 518.30,220.00 518.70,220.00 519.10,220.02 519.50,220.07 519.90,220.13 520.30,220.21 520.70,220.30 521.10,220.39 521.50,220.48 521.90,220.56 522.30,220.64 522.70,220.71 523.10,220.78 523.50,220.86 523.90,220.93 524.30,221.01 524.70,221.09 525.10,221.16 525.50,221.25 525.90,221.33 526.30,221.41 526.70,221.50 527.10,221.59 527.50,221.68 527.90,221.78 528.30,221.87 528.70,221.97 529.10,222.08 529.50,222.18 529.90,222.28 530.30,222.39 530.70,222.50 531.10,222.61 531.50,222.72 531.90,222.83 532.30,222.94 532.70,223.06 533.10,223.17 533.50,223.29 533.90,223.42 534.30,223.54 534.70,223.67 535.10,223.79 535.50,223.92 535.90,224.05 536.30,224.18 536.70,224.31 537.10,224.44 537.50,224.57 537.90,224.70 538.30,224.83 538.70,224.96 539.10,225.09 539.50,225.22 539.90,225.35 540.30,225.47 540.70,225.60 541.10,225.73 541.50,225.86 541.90,226.00 542.30,226.13 542.70,226.26 543.10,226.39 543.50,226.53 543.90,226.67 544.30,226.80 544.70,226.94 545.10,227.08 545.50,227.23 545.90,227.37 546.30,227.51 546.70,227.66 547.10,227.80 547.50,227.95 547.90,228.10 548.30,228.24 548.70,228.39 549.10,228.54 549.50,228.69 549.90,228.84 550.30,228.99 550.70,229.13 551.10,229.28 551.50,229.43 551.90,229.58 552.30,229.73 552.70,229.88 553.10,230.03 553.50,230.18 553.90,230.33 554.30,230.49 554.70,230.64 555.10,230.80 555.50,230.96 555.90,231.12 556.30,231.28 556.70,231.44 557.10,231.61 557.50,231.77 557.90,231.94 558.30,232.11 558.70,232.28 559.10,232.45 559.50,232.62 559.90,232.80 560.30,232.98 560.70,233.16 561.10,233.34 561.50,233.52 561.90,233.70 562.30,233.89 562.70,234.08 563.10,234.27 563.50,234.46 563.90,234.65 564.30,234.85 564.70,235.04 565.10,235.24 565.50,235.44 565.90,235.64 566.30,235.85 566.70,236.05 567.10,236.26 567.50,236.47 567.90,236.68 568.30,236.90 568.70,237.11 569.10,237.33 569.50,237.55 569.90,237.77 570.30,237.99 570.70,238.22 571.10,238.44 571.50,238.66 571.90,238.88 572.30,239.10 572.70,239.32 573.10,239.54 573.50,239.75 573.90,239.97 574.30,240.19 574.70,240.41 575.10,240.62 575.50,240.84 575.90,241.06 576.30,241.28 576.70,241.51 577.10,241.73 577.50,241.96 577.90,242.19 578.30,242.42 578.70,242.65 579.10,242.88 579.50,243.12 579.90,243.36 580.30,243.60 580.70,243.84 581.10,244.08 581.50,244.32 581.90,244.57 582.30,244.81 582.70,245.06 583.10,245.30 583.50,245.55 583.90,245.80 584.30,246.05 584.70,246.30 585.10,246.55 585.50,246.80 585.90,247.06 586.30,247.31 586.70,247.57 587.10,247.82 587.50,248.08 587.90,248.34 588.30,248.60 588.70,248.85 589.10,249.11 589.50,249.37 589.90,249.63 590.30,249.89 590.70,250.15 591.10,250.41 591.50,250.67 591.90,250.93 592.30,251.19 592.70,251.46 593.10,251.72 593.50,251.98 593.90,252.24 594.30,252.51 594.70,252.77 595.10,253.04 595.50,253.30 595.90,253.57 596.30,253.83 596.70,254.10 597.10,254.37 597.50,254.64 597.90,254.90 598.30,255.17 598.70,255.44 599.10,255.71 599.50,255.98 599.90,256.24 600.30,256.51 600.70,256.77 601.10,257.03 601.50,257.30 601.90,257.56 602.30,257.82 602.70,258.08 603.10,258.34 603.50,258.60 603.90,258.86 604.30,259.11 604.70,259.37 605.10,259.62 605.50,259.87 605.90,260.12 606.30,260.37 606.70,260.62 607.10,260.86 607.50,261.10 607.90,261.34 608.30,261.58 608.70,261.81 609.10,262.04 609.50,262.27 609.90,262.50 610.30,262.73 610.70,262.96 611.10,263.18 611.50,263.40 611.50,263.40 L611.50,330.30 Z" fill="#00ff00"/>
<rect x="331.40" y="285.3" width="48.90" height="31.9" fill="#fff"/>
<path d="M331.40,285.3 H380.30 M331.40,317.2 H380.30" stroke="#000" stroke-width="1"/>
<g clip-path="url(#cc)">
<line x1="145.70" y1="256.3" x2="145.70" y2="265.4" stroke="#fff" stroke-width="1.2"/>
<line x1="145.60" y1="271.80" x2="145.60" y2="330.30" stroke="#fff" stroke-opacity="0.75" stroke-width="1.0" stroke-dasharray="8.1 8"/>
<line x1="205.20" y1="242.80" x2="205.20" y2="330.30" stroke="#111" stroke-width="1.15" stroke-dasharray="8.1 8"/>
<line x1="283.60" y1="122.15" x2="283.60" y2="330.30" stroke="#300020" stroke-opacity="0.5" stroke-width="1.1" stroke-dasharray="8.1 8"/>
<line x1="331.40" y1="132.80" x2="331.40" y2="330.30" stroke="#000" stroke-width="0.9"/>
<line x1="380.30" y1="192.00" x2="380.30" y2="330.30" stroke="#000" stroke-width="1"/>
<line x1="497.80" y1="220.70" x2="497.80" y2="330.30" stroke="#004828" stroke-width="1.15" stroke-dasharray="8.1 8"/>
</g>
<rect x="149.4" y="298.6" width="53.6" height="21.4" fill="#c8c8c8" stroke="#f545f5" stroke-width="1.0"/>
</g>
<path d="M62.40,324.50 L62.80,323.46 63.20,322.43 63.60,321.41 64.00,320.39 64.40,319.38 64.80,318.38 65.20,317.38 65.60,316.39 66.00,315.40 66.40,314.43 66.80,313.46 67.20,312.48 67.60,311.51 68.00,310.53 68.40,309.56 68.80,308.60 69.20,307.65 69.60,306.71 70.00,305.79 70.40,304.90 70.80,304.03 71.20,303.20 71.60,302.39 72.00,301.60 72.40,300.82 72.80,300.06 73.20,299.31 73.60,298.58 74.00,297.86 74.40,297.15 74.80,296.45 75.20,295.76 75.60,295.08 76.00,294.42 76.40,293.75 76.80,293.10 77.20,292.45 77.60,291.81 78.00,291.17 78.40,290.54 78.80,289.92 79.20,289.30 79.60,288.70 80.00,288.10 80.40,287.52 80.80,286.95 81.20,286.39 81.60,285.85 82.00,285.31 82.40,284.80 82.80,284.30 83.20,283.81 83.60,283.33 84.00,282.86 84.40,282.39 84.80,281.94 85.20,281.50 85.60,281.06 86.00,280.63 86.40,280.21 86.80,279.80 87.20,279.39 87.60,278.99 88.00,278.60 88.40,278.21 88.80,277.83 89.20,277.46 89.60,277.09 90.00,276.73 90.40,276.37 90.80,276.02 91.20,275.68 91.60,275.34 92.00,275.00 92.40,274.67 92.80,274.34 93.20,274.02 93.60,273.70 94.00,273.38 94.40,273.06 94.80,272.75 95.20,272.43 95.60,272.12 96.00,271.82 96.40,271.52 96.80,271.22 97.20,270.93 97.60,270.65 98.00,270.37 98.40,270.11 98.80,269.85 99.20,269.60 99.60,269.36 100.00,269.13 100.40,268.90 100.80,268.68 101.20,268.46 101.60,268.25 102.00,268.04 102.40,267.84 102.80,267.64 103.20,267.45 103.60,267.26 104.00,267.07 104.40,266.88 104.80,266.70 105.20,266.52 105.60,266.34 106.00,266.16 106.40,265.98 106.80,265.81 107.20,265.64 107.60,265.47 108.00,265.30 108.40,265.14 108.80,264.98 109.20,264.82 109.60,264.67 110.00,264.52 110.40,264.37 110.80,264.23 111.20,264.10 111.60,263.97 112.00,263.84 112.40,263.72 112.80,263.60 113.20,263.48 113.60,263.37 114.00,263.26 114.40,263.15 114.80,263.05 115.20,262.94 115.60,262.84 116.00,262.74 116.40,262.64 116.80,262.54 117.20,262.44 117.60,262.35 118.00,262.25 118.40,262.15 118.80,262.06 119.20,261.96 119.60,261.87 120.00,261.78 120.40,261.69 120.80,261.60 121.20,261.51 121.60,261.42 122.00,261.34 122.40,261.25 122.80,261.17 123.20,261.08 123.60,261.00 124.00,260.91 124.40,260.82 124.80,260.74 125.20,260.65 125.60,260.56 126.00,260.47 126.40,260.38 126.80,260.29 127.20,260.20 127.60,260.11 128.00,260.01 128.40,259.92 128.80,259.82 129.20,259.72 129.60,259.63 130.00,259.53 130.40,259.43 130.80,259.33 131.20,259.23 131.60,259.13 132.00,259.03 132.40,258.93 132.80,258.83 133.20,258.73 133.60,258.63 134.00,258.53 134.40,258.43 134.80,258.33 135.20,258.23 135.60,258.13 136.00,258.03 136.40,257.92 136.80,257.82 137.20,257.72 137.60,257.62 138.00,257.52 138.40,257.42 138.80,257.31 139.20,257.21 139.60,257.11 140.00,257.00 140.40,256.90 140.80,256.80 141.20,256.69 141.60,256.59 142.00,256.49 142.40,256.39 142.80,256.28 143.20,256.18 143.60,256.08 144.00,255.98 144.40,255.88 144.80,255.78 145.20,255.67 145.60,255.57 146.00,255.47 146.40,255.37 146.80,255.28 147.20,255.18 147.60,255.08 148.00,254.98 148.40,254.88 148.80,254.78 149.20,254.68 149.60,254.58 150.00,254.48 150.40,254.38 150.80,254.29 151.20,254.19 151.60,254.09 152.00,253.99 152.40,253.89 152.80,253.79 153.20,253.70 153.60,253.60 154.00,253.50 154.40,253.40 154.80,253.31 155.20,253.21 155.60,253.11 156.00,253.01 156.40,252.92 156.80,252.82 157.20,252.72 157.60,252.63 158.00,252.53 158.40,252.43 158.80,252.33 159.20,252.24 159.60,252.14 160.00,252.04 160.40,251.95 160.80,251.85 161.20,251.75 161.60,251.66 162.00,251.56 162.40,251.46 162.80,251.37 163.20,251.27 163.60,251.17 164.00,251.08 164.40,250.98 164.80,250.88 165.20,250.79 165.60,250.69 166.00,250.59 166.40,250.50 166.80,250.40 167.20,250.30 167.60,250.20 168.00,250.11 168.40,250.01 168.80,249.91 169.20,249.82 169.60,249.72 170.00,249.62 170.40,249.52 170.80,249.43 171.20,249.33 171.60,249.23 172.00,249.13 172.40,249.04 172.80,248.94 173.20,248.84 173.60,248.74 174.00,248.65 174.40,248.55 174.80,248.45 175.20,248.35 175.60,248.25 176.00,248.15 176.40,248.06 176.80,247.96 177.20,247.86 177.60,247.76 178.00,247.66 178.40,247.56 178.80,247.47 179.20,247.37 179.60,247.27 180.00,247.17 180.40,247.07 180.80,246.97 181.20,246.87 181.60,246.78 182.00,246.68 182.40,246.58 182.80,246.48 183.20,246.38 183.60,246.28 184.00,246.18 184.40,246.08 184.80,245.99 185.20,245.89 185.60,245.79 186.00,245.69 186.40,245.59 186.80,245.49 187.20,245.39 187.60,245.29 188.00,245.19 188.40,245.10 188.80,245.00 189.20,244.90 189.60,244.80 190.00,244.70 190.40,244.60 190.80,244.50 191.20,244.40 191.60,244.30 192.00,244.20 192.40,244.11 192.80,244.01 193.20,243.91 193.60,243.81 194.00,243.71 194.40,243.61 194.80,243.51 195.20,243.41 195.60,243.31 196.00,243.21 196.40,243.11 196.80,243.01 197.20,242.92 197.60,242.82 198.00,242.72 198.40,242.62 198.80,242.52 199.20,242.42 199.60,242.32 200.00,242.22 200.40,242.12 200.80,242.02 201.20,241.92 201.60,241.82 202.00,241.72 202.40,241.62 202.80,241.52 203.20,241.42 203.60,241.32 204.00,241.22 204.40,241.12 204.80,241.02 205.20,240.92 205.30,240.90 205.70,238.79 206.10,236.72 206.50,234.68 206.90,232.68 207.30,230.71 207.70,228.78 208.10,226.90 208.50,225.06 208.90,223.27 209.30,221.53 209.70,219.82 210.10,218.13 210.50,216.45 210.90,214.76 211.30,213.06 211.70,211.34 212.10,209.62 212.50,207.91 212.90,206.19 213.30,204.47 213.70,202.74 214.10,201.00 214.50,199.24 214.90,197.45 215.30,195.63 215.70,193.78 216.10,191.91 216.50,190.02 216.90,188.14 217.30,186.27 217.70,184.42 218.10,182.59 218.50,180.79 218.90,179.00 219.30,177.21 219.70,175.44 220.10,173.65 220.50,171.86 220.90,170.06 221.30,168.22 221.70,166.35 222.10,164.45 222.50,162.55 222.90,160.65 223.30,158.78 223.70,156.94 224.10,155.16 224.50,153.44 224.90,151.74 225.30,150.07 225.70,148.44 226.10,146.89 226.50,145.44 226.90,144.11 227.30,142.87 227.70,141.69 228.10,140.57 228.50,139.46 228.90,138.34 229.30,137.19 229.70,136.00 230.10,134.82 230.50,133.61 230.90,132.34 231.30,130.95 231.70,129.45 232.10,127.88 232.50,126.30 232.90,124.68 233.30,123.01 233.70,121.34 234.10,119.75 234.50,118.25 234.90,116.81 235.30,115.42 235.70,114.10 236.10,112.81 236.50,111.55 236.90,110.33 237.30,109.19 237.70,108.14 238.10,107.20 238.50,106.32 238.90,105.49 239.30,104.72 239.70,104.01 240.10,103.34 240.50,102.68 240.90,102.05 241.30,101.48 241.70,100.99 242.10,100.62 242.50,100.30 242.90,100.03 243.30,99.79 243.70,99.61 244.10,99.47 244.50,99.35 244.90,99.25 245.30,99.15 245.70,99.08 246.10,99.03 246.50,99.00 246.90,99.01 247.30,99.06 247.70,99.13 248.10,99.23 248.50,99.34 248.90,99.47 249.30,99.66 249.70,99.92 250.10,100.21 250.50,100.53 250.90,100.88 251.30,101.28 251.70,101.74 252.10,102.23 252.50,102.74 252.90,103.25 253.30,103.75 253.70,104.25 254.10,104.77 254.50,105.29 254.90,105.81 255.30,106.33 255.70,106.83 256.10,107.32 256.50,107.79 256.90,108.26 257.30,108.72 257.70,109.17 258.10,109.62 258.50,110.06 258.90,110.50 259.30,110.94 259.70,111.37 260.10,111.79 260.50,112.22 260.90,112.64 261.30,113.06 261.70,113.48 262.10,113.91 262.50,114.33 262.90,114.76 263.30,115.19 263.70,115.62 264.10,116.05 264.50,116.47 264.90,116.90 265.30,117.33 265.70,117.77 266.10,118.20 266.50,118.63 266.90,119.07 267.30,119.51 267.70,119.95 268.10,120.38 268.50,120.82 268.90,121.27 269.30,121.71 269.70,122.15 284.00,122.15 284.40,121.38 284.80,120.64 285.20,119.93 285.60,119.26 286.00,118.64 286.40,118.05 286.80,117.50 287.20,116.96 287.60,116.43 288.00,115.90 288.40,115.36 288.80,114.82 289.20,114.28 289.60,113.74 290.00,113.21 290.40,112.70 290.80,112.20 291.20,111.72 291.60,111.25 292.00,110.79 292.40,110.34 292.80,109.91 293.20,109.50 293.60,109.10 294.00,108.72 294.40,108.34 294.80,107.98 295.20,107.63 295.60,107.30 296.00,107.00 296.40,106.71 296.80,106.44 297.20,106.17 297.60,105.93 298.00,105.70 298.40,105.49 298.80,105.31 299.20,105.14 299.60,104.97 300.00,104.82 300.40,104.69 300.80,104.57 301.20,104.48 301.60,104.39 302.00,104.30 302.40,104.21 302.80,104.14 303.20,104.07 303.60,104.03 304.00,104.00 304.40,104.00 304.80,104.02 305.20,104.06 305.60,104.11 306.00,104.17 306.40,104.24 306.80,104.31 307.20,104.38 307.60,104.46 308.00,104.56 308.40,104.67 308.80,104.79 309.20,104.93 309.60,105.08 310.00,105.24 310.40,105.43 310.80,105.64 311.20,105.87 311.60,106.12 312.00,106.38 312.40,106.66 312.80,106.93 313.20,107.21 313.60,107.50 314.00,107.81 314.40,108.13 314.80,108.46 315.20,108.80 315.60,109.15 316.00,109.50 316.40,109.86 316.80,110.24 317.20,110.63 317.60,111.02 318.00,111.43 318.40,111.85 318.80,112.28 319.20,112.71 319.60,113.15 320.00,113.60 320.40,114.07 320.80,114.54 321.20,115.03 321.60,115.53 322.00,116.04 322.40,116.56 322.80,117.10 323.20,117.65 323.60,118.22 324.00,118.80 324.40,119.40 324.80,120.01 325.20,120.64 325.60,121.29 326.00,121.95 326.40,122.64 326.80,123.34 327.20,124.06 327.60,124.80 328.00,125.54 328.40,126.30 328.80,127.05 329.20,127.81 329.60,128.58 330.00,129.38 330.40,130.24 330.80,131.16 331.20,132.20 331.60,133.40 331.60,133.40 380.30,192.00 380.70,192.15 381.10,192.30 381.50,192.43 381.90,192.55 382.30,192.64 382.70,192.70 383.10,192.75 383.50,192.79 383.90,192.83 384.30,192.86 384.70,192.89 385.10,192.90 385.50,192.90 385.90,192.88 386.30,192.86 386.70,192.82 387.10,192.78 387.50,192.74 387.90,192.69 388.30,192.62 388.70,192.52 389.10,192.41 389.50,192.29 389.90,192.16 390.30,192.03 390.70,191.90 391.10,191.76 391.50,191.62 391.90,191.47 392.30,191.31 392.70,191.14 393.10,190.97 393.50,190.80 393.90,190.62 394.30,190.43 394.70,190.24 395.10,190.05 395.50,189.85 395.90,189.65 396.30,189.43 396.70,189.21 397.10,188.98 397.50,188.73 397.90,188.49 398.30,188.24 398.70,187.98 399.10,187.72 399.50,187.47 399.90,187.21 400.30,186.95 400.70,186.70 401.10,186.45 401.50,186.19 401.90,185.93 402.30,185.67 402.70,185.41 403.10,185.14 403.50,184.88 403.90,184.62 404.30,184.36 404.70,184.10 405.10,183.84 405.50,183.59 405.90,183.34 406.30,183.09 406.70,182.84 407.10,182.59 407.50,182.35 407.90,182.10 408.30,181.86 408.70,181.62 409.10,181.38 409.50,181.14 409.90,180.91 410.30,180.68 410.70,180.46 411.10,180.25 411.50,180.03 411.90,179.82 412.30,179.61 412.70,179.41 413.10,179.21 413.50,179.01 413.90,178.81 414.30,178.62 414.70,178.43 415.10,178.25 415.50,178.07 415.90,177.89 416.30,177.71 416.70,177.54 417.10,177.36 417.50,177.19 417.90,177.02 418.30,176.85 418.70,176.69 419.10,176.53 419.50,176.37 419.90,176.23 420.30,176.09 420.70,175.95 421.10,175.83 421.50,175.71 421.90,175.60 422.30,175.48 422.70,175.37 423.10,175.27 423.50,175.16 423.90,175.06 424.30,174.97 424.70,174.88 425.10,174.80 425.50,174.73 425.90,174.67 426.30,174.61 426.70,174.56 427.10,174.52 427.50,174.47 427.90,174.43 428.30,174.39 428.70,174.35 429.10,174.31 429.50,174.28 429.90,174.25 430.30,174.23 430.70,174.21 431.10,174.20 431.50,174.20 431.90,174.21 432.30,174.23 432.70,174.26 433.10,174.30 433.50,174.34 433.90,174.39 434.30,174.44 434.70,174.51 435.10,174.60 435.50,174.71 435.90,174.82 436.30,174.95 436.70,175.08 437.10,175.21 437.50,175.34 437.90,175.46 438.30,175.60 438.70,175.73 439.10,175.87 439.50,176.02 439.90,176.18 440.30,176.34 440.70,176.50 441.10,176.67 441.50,176.85 441.90,177.04 442.30,177.24 442.70,177.46 443.10,177.68 443.50,177.92 443.90,178.16 444.30,178.40 444.70,178.65 445.10,178.91 445.50,179.16 445.90,179.43 446.30,179.70 446.70,179.98 447.10,180.26 447.50,180.55 447.90,180.84 448.30,181.14 448.70,181.44 449.10,181.75 449.50,182.05 449.90,182.36 450.30,182.67 450.70,182.99 451.10,183.31 451.50,183.64 451.90,183.97 452.30,184.30 452.70,184.65 453.10,185.00 453.50,185.36 453.90,185.73 454.30,186.10 454.70,186.49 455.10,186.88 455.50,187.27 455.90,187.67 456.30,188.08 456.70,188.49 457.10,188.90 457.50,189.33 457.90,189.76 458.30,190.20 458.70,190.64 459.10,191.09 459.50,191.54 459.90,191.99 460.30,192.44 460.70,192.89 461.10,193.33 461.50,193.77 461.90,194.21 462.30,194.65 462.70,195.09 463.10,195.53 463.50,195.97 463.90,196.41 464.30,196.85 464.70,197.30 465.10,197.75 465.50,198.20 465.90,198.66 466.30,199.11 466.70,199.57 467.10,200.03 467.50,200.48 467.90,200.93 468.30,201.38 468.70,201.82 469.10,202.26 469.50,202.69 469.90,203.13 470.30,203.56 470.70,203.99 471.10,204.42 471.50,204.84 471.90,205.27 472.30,205.69 472.70,206.12 473.10,206.54 473.50,206.97 473.90,207.39 474.30,207.81 474.70,208.23 475.10,208.65 475.50,209.07 475.90,209.48 476.30,209.90 476.70,210.32 477.10,210.74 477.50,211.17 477.90,211.59 478.30,212.01 478.70,212.43 479.10,212.84 479.50,213.23 479.90,213.62 480.30,213.98 480.70,214.34 481.10,214.69 481.50,215.03 481.90,215.36 482.30,215.68 482.70,216.00 483.10,216.32 483.50,216.62 483.90,216.93 484.30,217.22 484.70,217.52 485.10,217.82 485.50,218.11 485.90,218.40 486.30,218.68 486.70,218.95 487.10,219.20 487.50,219.43 487.90,219.65 488.30,219.86 488.70,220.06 489.10,220.26 489.50,220.45 489.90,220.63 490.30,220.80 490.70,220.95 491.10,221.10 491.50,221.24 491.90,221.36 492.30,221.49 492.70,221.62 493.10,221.75 493.50,221.87 493.90,221.98 494.30,222.07 494.70,222.14 495.10,222.18 495.50,222.20 495.90,222.19 496.30,222.17 496.70,222.12 497.10,222.05 497.50,221.76 497.90,220.70 498.30,220.68 498.70,220.66 499.10,220.64 499.50,220.62 499.90,220.59 500.30,220.57 500.70,220.55 501.10,220.53 501.50,220.51 501.90,220.49 502.30,220.47 502.70,220.45 503.10,220.43 503.50,220.41 503.90,220.38 504.30,220.36 504.70,220.34 505.10,220.31 505.50,220.29 505.90,220.26 506.30,220.24 506.70,220.22 507.10,220.19 507.50,220.17 507.90,220.15 508.30,220.13 508.70,220.12 509.10,220.11 509.50,220.09 509.90,220.08 510.30,220.07 510.70,220.06 511.10,220.05 511.50,220.05 511.90,220.04 512.30,220.03 512.70,220.02 513.10,220.02 513.50,220.01 513.90,220.01 514.30,220.00 514.70,220.00 515.10,220.00 515.50,220.00 515.90,220.00 516.30,220.00 516.70,220.00 517.10,220.00 517.50,220.00 517.90,220.00 518.30,220.00 518.70,220.00 519.10,220.02 519.50,220.07 519.90,220.13 520.30,220.21 520.70,220.30 521.10,220.39 521.50,220.48 521.90,220.56 522.30,220.64 522.70,220.71 523.10,220.78 523.50,220.86 523.90,220.93 524.30,221.01 524.70,221.09 525.10,221.16 525.50,221.25 525.90,221.33 526.30,221.41 526.70,221.50 527.10,221.59 527.50,221.68 527.90,221.78 528.30,221.87 528.70,221.97 529.10,222.08 529.50,222.18 529.90,222.28 530.30,222.39 530.70,222.50 531.10,222.61 531.50,222.72 531.90,222.83 532.30,222.94 532.70,223.06 533.10,223.17 533.50,223.29 533.90,223.42 534.30,223.54 534.70,223.67 535.10,223.79 535.50,223.92 535.90,224.05 536.30,224.18 536.70,224.31 537.10,224.44 537.50,224.57 537.90,224.70 538.30,224.83 538.70,224.96 539.10,225.09 539.50,225.22 539.90,225.35 540.30,225.47 540.70,225.60 541.10,225.73 541.50,225.86 541.90,226.00 542.30,226.13 542.70,226.26 543.10,226.39 543.50,226.53 543.90,226.67 544.30,226.80 544.70,226.94 545.10,227.08 545.50,227.23 545.90,227.37 546.30,227.51 546.70,227.66 547.10,227.80 547.50,227.95 547.90,228.10 548.30,228.24 548.70,228.39 549.10,228.54 549.50,228.69 549.90,228.84 550.30,228.99 550.70,229.13 551.10,229.28 551.50,229.43 551.90,229.58 552.30,229.73 552.70,229.88 553.10,230.03 553.50,230.18 553.90,230.33 554.30,230.49 554.70,230.64 555.10,230.80 555.50,230.96 555.90,231.12 556.30,231.28 556.70,231.44 557.10,231.61 557.50,231.77 557.90,231.94 558.30,232.11 558.70,232.28 559.10,232.45 559.50,232.62 559.90,232.80 560.30,232.98 560.70,233.16 561.10,233.34 561.50,233.52 561.90,233.70 562.30,233.89 562.70,234.08 563.10,234.27 563.50,234.46 563.90,234.65 564.30,234.85 564.70,235.04 565.10,235.24 565.50,235.44 565.90,235.64 566.30,235.85 566.70,236.05 567.10,236.26 567.50,236.47 567.90,236.68 568.30,236.90 568.70,237.11 569.10,237.33 569.50,237.55 569.90,237.77 570.30,237.99 570.70,238.22 571.10,238.44 571.50,238.66 571.90,238.88 572.30,239.10 572.70,239.32 573.10,239.54 573.50,239.75 573.90,239.97 574.30,240.19 574.70,240.41 575.10,240.62 575.50,240.84 575.90,241.06 576.30,241.28 576.70,241.51 577.10,241.73 577.50,241.96 577.90,242.19 578.30,242.42 578.70,242.65 579.10,242.88 579.50,243.12 579.90,243.36 580.30,243.60 580.70,243.84 581.10,244.08 581.50,244.32 581.90,244.57 582.30,244.81 582.70,245.06 583.10,245.30 583.50,245.55 583.90,245.80 584.30,246.05 584.70,246.30 585.10,246.55 585.50,246.80 585.90,247.06 586.30,247.31 586.70,247.57 587.10,247.82 587.50,248.08 587.90,248.34 588.30,248.60 588.70,248.85 589.10,249.11 589.50,249.37 589.90,249.63 590.30,249.89 590.70,250.15 591.10,250.41 591.50,250.67 591.90,250.93 592.30,251.19 592.70,251.46 593.10,251.72 593.50,251.98 593.90,252.24 594.30,252.51 594.70,252.77 595.10,253.04 595.50,253.30 595.90,253.57 596.30,253.83 596.70,254.10 597.10,254.37 597.50,254.64 597.90,254.90 598.30,255.17 598.70,255.44 599.10,255.71 599.50,255.98 599.90,256.24 600.30,256.51 600.70,256.77 601.10,257.03 601.50,257.30 601.90,257.56 602.30,257.82 602.70,258.08 603.10,258.34 603.50,258.60 603.90,258.86 604.30,259.11 604.70,259.37 605.10,259.62 605.50,259.87 605.90,260.12 606.30,260.37 606.70,260.62 607.10,260.86 607.50,261.10 607.90,261.34 608.30,261.58 608.70,261.81 609.10,262.04 609.50,262.27 609.90,262.50 610.30,262.73 610.70,262.96 611.10,263.18 611.50,263.40 611.50,263.40" fill="none" stroke="#000" stroke-width="1.4" stroke-linejoin="round"/>
<rect x="62.40" y="38.45" width="549.10" height="291.85" fill="none" stroke="#000" stroke-width="1.1"/>
<path d="M72.12,330.30 v-3.00 M100.08,330.30 v-3.00 M128.04,330.30 v-3.00 M156.00,330.30 v-5.80 M183.96,330.30 v-3.00 M211.92,330.30 v-3.00 M239.88,330.30 v-3.00 M267.84,330.30 v-3.00 M295.80,330.30 v-5.80 M323.76,330.30 v-3.00 M351.72,330.30 v-3.00 M379.68,330.30 v-3.00 M407.64,330.30 v-3.00 M435.60,330.30 v-5.80 M463.56,330.30 v-3.00 M491.52,330.30 v-3.00 M519.48,330.30 v-3.00 M547.44,330.30 v-3.00 M575.40,330.30 v-5.80 M603.36,330.30 v-3.00 M169.33,38.45 v6.50 M309.13,38.45 v6.50 M448.93,38.45 v6.50 M588.73,38.45 v6.50 M62.40,330.50 h10.80 M611.50,330.50 h-10.80 M62.40,298.05 h5.40 M611.50,298.05 h-5.40 M62.40,265.60 h10.80 M611.50,265.60 h-10.80 M62.40,233.15 h5.40 M611.50,233.15 h-5.40 M62.40,200.70 h10.80 M611.50,200.70 h-10.80 M62.40,168.25 h5.40 M611.50,168.25 h-5.40 M62.40,135.80 h10.80 M611.50,135.80 h-10.80 M62.40,103.35 h5.40 M611.50,103.35 h-5.40 M62.40,70.90 h10.80 M611.50,70.90 h-10.80 M62.40,38.45 h5.40 M611.50,38.45 h-5.40" stroke="#000" stroke-width="1.1" fill="none"/>
<g font-family="Liberation Sans, sans-serif" font-size="14.40px" stroke-width="0.35" style="will-change:transform">
<text x="156.30" y="355.20" text-anchor="middle" fill="#000" stroke="#000" >10<tspan dy="-8.5" font-size="8.90px">0</tspan></text>
<text x="296.10" y="355.20" text-anchor="middle" fill="#000" stroke="#000" >10<tspan dy="-8.5" font-size="8.90px">5</tspan></text>
<text x="435.90" y="355.20" text-anchor="middle" fill="#000" stroke="#000" >10<tspan dy="-8.5" font-size="8.90px">10</tspan></text>
<text x="575.70" y="355.20" text-anchor="middle" fill="#000" stroke="#000" >10<tspan dy="-8.5" font-size="8.90px">15</tspan></text>
<text x="169.63" y="30.30" text-anchor="middle" fill="#000" stroke="#000" >10<tspan dy="-8.5" font-size="8.90px">5</tspan></text>
<text x="309.43" y="30.30" text-anchor="middle" fill="#000" stroke="#000" >10<tspan dy="-8.5" font-size="8.90px">0</tspan></text>
<text x="449.23" y="30.30" text-anchor="middle" fill="#000" stroke="#000" >10<tspan dy="-8.5" font-size="8.90px">-5</tspan></text>
<text x="589.03" y="30.30" text-anchor="middle" fill="#000" stroke="#000" >10<tspan dy="-8.5" font-size="8.90px">-10</tspan></text>
<text x="57.50" y="77.40" text-anchor="end" fill="#000" stroke="#000" >10<tspan dy="-8.5" font-size="8.90px">2</tspan></text>
<text x="57.50" y="142.30" text-anchor="end" fill="#000" stroke="#000" >10<tspan dy="-8.5" font-size="8.90px">0</tspan></text>
<text x="57.50" y="207.20" text-anchor="end" fill="#000" stroke="#000" >10<tspan dy="-8.5" font-size="8.90px">-2</tspan></text>
<text x="57.50" y="272.10" text-anchor="end" fill="#000" stroke="#000" >10<tspan dy="-8.5" font-size="8.90px">-4</tspan></text>
<text x="57.60" y="330.60" text-anchor="end" fill="#000" stroke="#000" >10<tspan dy="-8.5" font-size="8.90px">-6</tspan></text>
<text x="275.60" y="13.60" text-anchor="start" fill="#000" stroke="#000" >Wavelength</text>
<text transform="translate(354.40,13.60) scale(1.450,1)" font-family="Liberation Serif, serif" font-style="italic" font-size="14.40px" stroke="#000" stroke-width="0.25" >λ</text>
<text x="367.50" y="13.60" text-anchor="start" fill="#000" stroke="#000" >[</text>
<text transform="translate(371.80,13.60) scale(1.300,1)" font-family="Liberation Serif, serif" font-style="italic" font-size="14.40px" stroke="#000" stroke-width="0.25" >μ</text>
<text x="380.40" y="13.60" text-anchor="start" fill="#000" stroke="#000" >m]</text>
<text x="275.90" y="376.50" text-anchor="start" fill="#000" stroke="#000" >Frequency</text>
<text transform="translate(348.30,376.50) scale(1.300,1)" font-family="Liberation Serif, serif" font-style="italic" font-size="14.40px" stroke="#000" stroke-width="0.25" >ν</text>
<text x="360.20" y="376.50" text-anchor="start" fill="#000" stroke="#000" >[GHz]</text>
<g transform="translate(18.3,269.7) rotate(-90)">
<text x="0.00" y="0.00" text-anchor="start" fill="#000" stroke="#000" >Brightness</text>
<text transform="translate(70.80,0.00) scale(1.300,1)" font-family="Liberation Serif, serif" font-style="italic" font-size="14.40px" stroke="#000" stroke-width="0.25" >ν</text>
<text x="79.50" y="0.00" text-anchor="start" fill="#000" stroke="#000" >I</text>
<text transform="translate(83.70,8.00) scale(1.300,1)" font-family="Liberation Serif, serif" font-style="italic" font-size="8.90px" stroke="#000" stroke-width="0.25" >ν</text>
<text x="92.10" y="0.00" text-anchor="start" fill="#000" stroke="#000" >[nW.m</text>
<text x="133.70" y="-8.70" text-anchor="start" fill="#000" stroke="#000" font-size="8.90px">-2</text>
<text x="141.60" y="0.00" text-anchor="start" fill="#000" stroke="#000" >.sr</text>
<text x="157.60" y="-8.70" text-anchor="start" fill="#000" stroke="#000" font-size="8.90px">-1</text>
<text x="165.50" y="0.00" text-anchor="start" fill="#000" stroke="#000" >]</text>
</g>
<text x="87.60" y="62.00" text-anchor="start" fill="#000" stroke="#000" font-size="14.55px">Integrated values</text>
<text x="87.60" y="77.80" text-anchor="start" fill="#000" stroke="#000" >in nW/m<tspan dy="-6.5" font-size="8.90px">2</tspan><tspan dy="6.5">/sr</tspan></text>
<text x="190.60" y="151.80" text-anchor="start" fill="#000" stroke="#000" >CMB</text>
<text x="190.60" y="168.50" text-anchor="start" fill="#000" stroke="#000" >960</text>
<text x="96.00" y="299.30" text-anchor="start" fill="#fff" stroke="#fff" stroke-width="0.2" >Radio</text>
<text x="95.90" y="315.60" text-anchor="start" fill="#fff" stroke="#fff" stroke-width="0.2" >0.0007</text>
<text x="149.50" y="314.70" text-anchor="start" fill="#000" stroke="#000" >(0.0024)</text>
<text x="240.60" y="299.30" text-anchor="start" fill="#fff" stroke="#fff" stroke-width="0.2" >CIB</text>
<text x="240.30" y="315.60" text-anchor="start" fill="#fff" stroke="#fff" stroke-width="0.2" >30.3</text>
<text x="291.30" y="299.30" text-anchor="start" fill="#fff" stroke="#fff" stroke-width="0.2" >COB</text>
<text x="291.60" y="315.60" text-anchor="start" fill="#fff" stroke="#fff" stroke-width="0.2" >22.6</text>
<text x="344.10" y="299.00" text-anchor="start" fill="#000" stroke="#000" >UV</text>
<text x="344.00" y="315.50" text-anchor="start" fill="#000" stroke="#000" >N/A</text>
<text x="422.80" y="299.30" text-anchor="start" fill="#000" stroke="#000" >XRB</text>
<text x="422.80" y="315.60" text-anchor="start" fill="#000" stroke="#000" >0.275</text>
<text x="534.30" y="299.00" text-anchor="start" fill="#000" stroke="#000" >GRB</text>
<text x="534.50" y="315.70" text-anchor="start" fill="#000" stroke="#000" >0.015</text>
</g>
</svg>
</body></html>
